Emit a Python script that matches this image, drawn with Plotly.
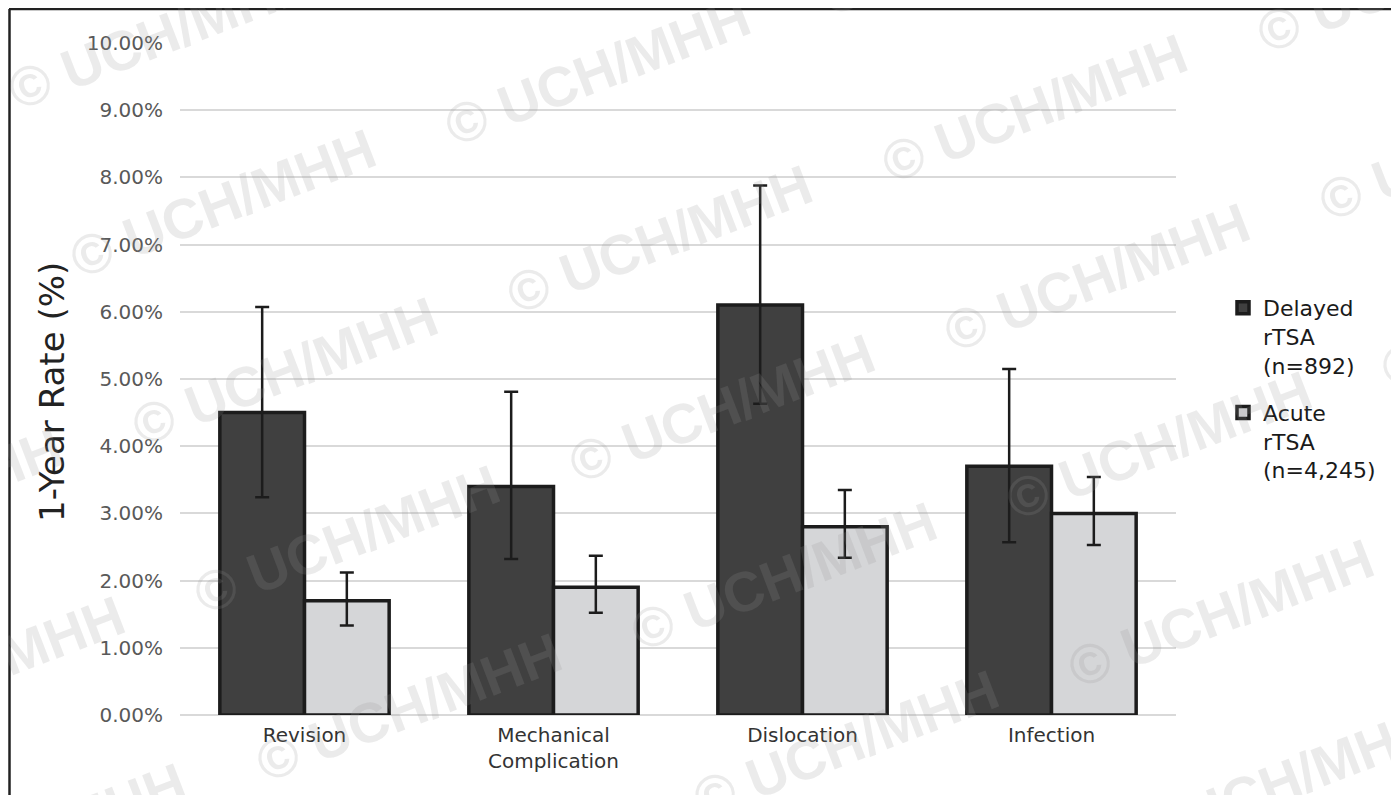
import plotly.graph_objects as go

categories = ["Revision", "Mechanical<br>Complication", "Dislocation", "Infection"]
delayed_name = "Delayed<br>rTSA<br>(n=892)"
acute_name = "Acute<br>rTSA<br>(n=4,245)"
delayed_vals = [4.50, 3.40, 6.10, 3.70]
delayed_upper = [6.07, 4.81, 7.88, 5.15]
delayed_lower = [3.24, 2.32, 4.63, 2.57]
acute_vals = [1.70, 1.90, 2.80, 3.00]
acute_upper = [2.12, 2.37, 3.35, 3.54]
acute_lower = [1.33, 1.52, 2.34, 2.53]
y_ticks = [0, 1, 2, 3, 4, 5, 6, 7, 8, 9, 10]
y_title = "1-Year Rate (%)"
watermark = "© UCH/MHH"

# page is 1399x795; the html body has an 8px margin
OFF = 8
FW, FH = 1399 - OFF, 795 - OFF
ML, MT = 180 - OFF, 43 - OFF
MR = FW - (1176 - OFF)
MB = FH - (715 - OFF)
PW, PH = FW - ML - MR, FH - MT - MB


def px_x(px):
    return (px - OFF - ML) / PW


def px_y(py):
    return 1 - (py - OFF - MT) / PH


FONT = "DejaVu Sans, Verdana, sans-serif"
WFONT = "Liberation Sans, Arial, Helvetica, sans-serif"
EDGE = "#1c1c1c"

fig = go.Figure()
fig.add_trace(go.Bar(
    name=delayed_name, x=categories, y=delayed_vals, legendgroup="d",
    marker=dict(color="#404040", line=dict(color=EDGE, width=3.5)),
    error_y=dict(type="data", symmetric=False,
                 array=[u - v for u, v in zip(delayed_upper, delayed_vals)],
                 arrayminus=[v - l for v, l in zip(delayed_vals, delayed_lower)],
                 color=EDGE, thickness=2.5, width=7),
))
fig.add_trace(go.Bar(
    name=acute_name, x=categories, y=acute_vals, legendgroup="a",
    marker=dict(color="#d5d6d8", line=dict(color=EDGE, width=3.5)),
    error_y=dict(type="data", symmetric=False,
                 array=[u - v for u, v in zip(acute_upper, acute_vals)],
                 arrayminus=[v - l for v, l in zip(acute_vals, acute_lower)],
                 color=EDGE, thickness=2.5, width=7),
))

annotations = [dict(
    text=y_title, xref="paper", yref="paper", x=px_x(52), y=px_y(392),
    textangle=-90, showarrow=False, xanchor="center", yanchor="middle",
    font=dict(family=FONT, size=34, color="#222222"),
)]

# watermark lattice (positions of the © glyph in page pixels)
for r in range(-1, 7):
    for c in range(-1, 5):
        cx = 30 + 437 * c + 62 * r
        cy = 85 + 37 * c + 168 * r
        mx, my = cx + 130, cy - 50
        if -200 < mx < 1399 + 200 and -120 < my < 795 + 120:
            annotations.append(dict(
                text="<b>" + watermark + "</b>", xref="paper", yref="paper",
                x=px_x(mx), y=px_y(my), textangle=-21, showarrow=False,
                xanchor="center", yanchor="middle",
                font=dict(family=WFONT, size=56, color="rgba(150,150,150,0.19)"),
            ))

shapes = [
    dict(type="line", xref="paper", yref="paper", x0=px_x(9), x1=px_x(1405),
         y0=px_y(9), y1=px_y(9), line=dict(color="#222222", width=2.5)),
    dict(type="line", xref="paper", yref="paper", x0=px_x(9.5), x1=px_x(9.5),
         y0=px_y(9), y1=px_y(805), line=dict(color="#222222", width=2.5)),
]

fig.update_layout(
    width=FW, height=FH,
    margin=dict(l=ML, r=MR, t=MT, b=MB, autoexpand=False),
    paper_bgcolor="white", plot_bgcolor="white",
    barmode="group", bargap=0.32, bargroupgap=0,
    font=dict(family=FONT, color="#333333"),
    showlegend=True,
    legend=dict(x=px_x(1223), y=px_y(287), xanchor="left", yanchor="top",
                valign="top", font=dict(family=FONT, size=22, color="#1a1a1a"),
                bgcolor="rgba(0,0,0,0)", tracegroupgap=16, traceorder="grouped"),
    annotations=annotations,
    shapes=shapes,
)
fig.update_xaxes(showgrid=False, showline=False, zeroline=False, ticks="",
                 tickfont=dict(family=FONT, size=20, color="#333333"),
                 ticklabelstandoff=6)
fig.update_yaxes(range=[0, 10], tickvals=y_ticks,
                 ticktext=[f"{v:.2f}%" for v in y_ticks],
                 showgrid=True, gridcolor="#d9d9d9", gridwidth=2,
                 zeroline=True, zerolinecolor="#d9d9d9", zerolinewidth=2,
                 showline=False, ticks="",
                 tickfont=dict(family=FONT, size=20, color="#595959"),
                 ticklabelstandoff=16)

fig.write_html("out.html")
